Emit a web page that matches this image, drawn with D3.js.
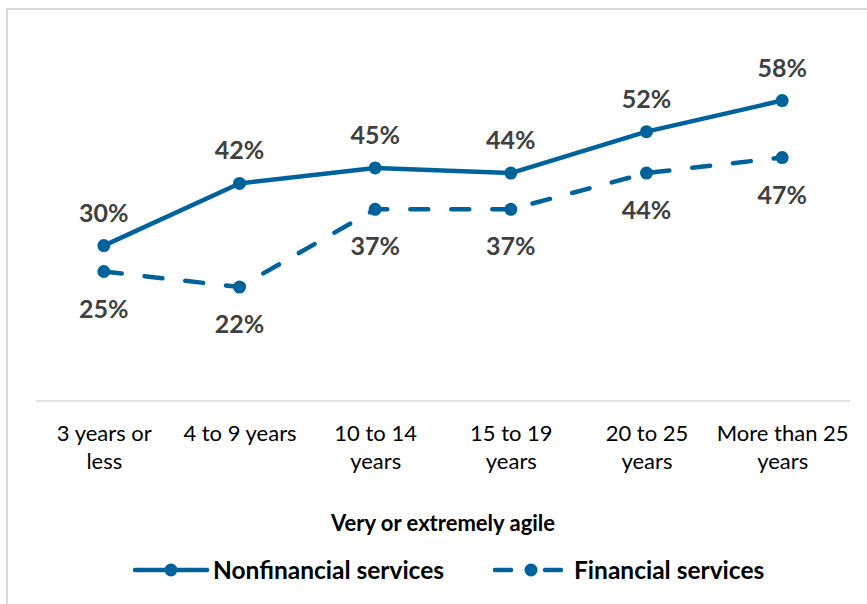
<!DOCTYPE html>
<html>
<head>
<meta charset="utf-8">
<script src="https://cdn.jsdelivr.net/npm/d3@7"></script>
<style>
  html, body { margin: 0; padding: 0; background: #fff; }
  svg { display: block; }
</style>
</head>
<body>
<svg id="chart" width="867" height="604"></svg>
<script>
// Share rated very or extremely agile, by company age
const categories = [["3 years or", "less"], ["4 to 9 years"], ["10 to 14", "years"], ["15 to 19", "years"], ["20 to 25", "years"], ["More than 25", "years"]];
const nonfinancial = [30, 42, 45, 44, 52, 58];
const financial = [25, 22, 37, 37, 44, 47];
const seriesNames = ["Nonfinancial services", "Financial services"];
const axisTitle = "Very or extremely agile";

const blue = "#00629b";
const labelGrey = "#404040";
const font = "Lato, 'Open Sans', sans-serif";

const svg = d3.select("#chart");

// frame
svg.append("path")
  .attr("d", "M7,604 V9 H867")
  .attr("fill", "none")
  .attr("stroke", "#d9d9d9")
  .attr("stroke-width", 2);

const x = d3.scalePoint()
  .domain(d3.range(categories.length))
  .range([36, 850])
  .padding(0.5);
const y = d3.scaleLinear().domain([0, 70]).range([401, 38.4]);

// category axis
const xAxis = svg.append("g")
  .attr("transform", "translate(0,401)")
  .call(d3.axisBottom(x).tickSize(0).tickFormat(() => ""));
xAxis.select(".domain")
  .attr("d", "M36,0H850")
  .attr("stroke", "#d9d9d9")
  .attr("stroke-width", 1.5);

xAxis.selectAll(".tick").each(function (d) {
  const t = d3.select(this).select("text")
    .attr("y", 0).attr("dy", null)
    .attr("font-family", font).attr("font-size", 22)
    .attr("fill", "#000").attr("text-anchor", "middle");
  categories[d].forEach((line, i) => {
    t.append("tspan").attr("x", 0).attr("y", 40 + i * 28).text(line);
  });
});

// title under the axis
svg.append("text")
  .attr("x", 443).attr("y", 531)
  .attr("text-anchor", "middle")
  .attr("font-family", font).attr("font-size", 22).attr("font-weight", "bold")
  .attr("fill", "#000")
  .text(axisTitle);

const line = d3.line().x((d, i) => x(i)).y(d => y(d));
const dash = "18,23";

function drawSeries(values, dashed, labelAbove) {
  const g = svg.append("g");
  g.append("path")
    .datum(values)
    .attr("d", line)
    .attr("fill", "none")
    .attr("stroke", blue)
    .attr("stroke-width", 4.5)
    .attr("stroke-linecap", "round")
    .attr("stroke-linejoin", "round")
    .attr("stroke-dasharray", dashed ? dash : null);
  g.selectAll("circle").data(values).join("circle")
    .attr("cx", (d, i) => x(i)).attr("cy", d => y(d))
    .attr("r", 6.5).attr("fill", blue);
  g.selectAll("text").data(values).join("text")
    .attr("x", (d, i) => x(i))
    .attr("y", d => labelAbove ? y(d) - 24 : y(d) + 46)
    .attr("text-anchor", "middle")
    .attr("font-family", font).attr("font-size", 25).attr("font-weight", "bold")
    .attr("fill", labelGrey)
    .text(d => d + "%");
}

drawSeries(nonfinancial, false, true);
drawSeries(financial, true, false);

// legend
const legend = [
  { name: seriesNames[0], x0: 135, x1: 207, cx: 171, tx: 213, dashed: false },
  { name: seriesNames[1], x0: 495, x1: 561, cx: 531, tx: 574, dashed: true }
];
legend.forEach(l => {
  if (l.dashed) {
    svg.append("line").attr("x1", l.x0).attr("x2", l.x0 + 16).attr("y1", 570).attr("y2", 570)
      .attr("stroke", blue).attr("stroke-width", 4.5).attr("stroke-linecap", "round");
    svg.append("line").attr("x1", l.x1 - 16).attr("x2", l.x1).attr("y1", 570).attr("y2", 570)
      .attr("stroke", blue).attr("stroke-width", 4.5).attr("stroke-linecap", "round");
  } else {
    svg.append("line").attr("x1", l.x0).attr("x2", l.x1).attr("y1", 570).attr("y2", 570)
      .attr("stroke", blue).attr("stroke-width", 4.5).attr("stroke-linecap", "round");
  }
  svg.append("circle").attr("cx", l.cx).attr("cy", 570).attr("r", 6.5).attr("fill", blue);
  svg.append("text").attr("x", l.tx).attr("y", 578.5)
    .attr("font-family", font).attr("font-size", 24.5).attr("font-weight", "bold")
    .attr("fill", "#000").text(l.name);
});
</script>
</body>
</html>
